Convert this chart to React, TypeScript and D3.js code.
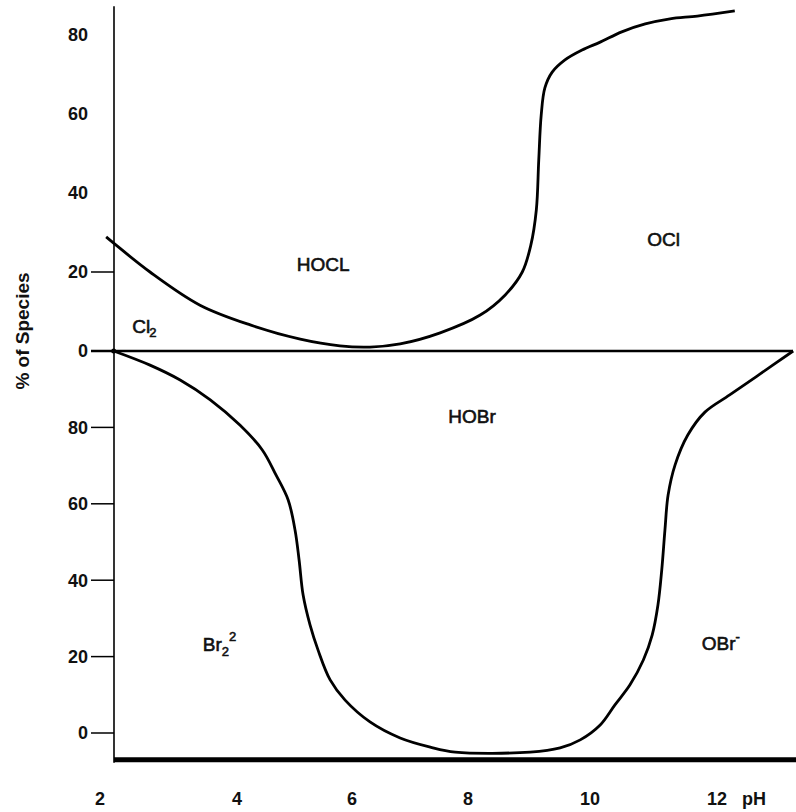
import * as d3 from "d3";

// pH axis labels
const phTicks = [2, 4, 6, 8, 10, 12];
// upper panel (chlorine species) and lower panel (bromine species)
const topTicks = [0, 20, 40, 60, 80];
const topTicksMarked = [0, 20];
const bottomTicks = [0, 20, 40, 60, 80];

// HOCl boundary curve (upper panel)
const hoclPh = [2.09, 2.2, 2.73, 3.46, 4.23, 5.1, 5.79, 6.31, 6.83, 7.52, 8.2, 8.61, 8.89, 9.03, 9.12, 9.16, 9.2, 9.26, 9.38, 9.59, 9.87, 10.16, 10.5, 10.87, 11.26, 11.69, 12.28];
const hoclPct = [28.9, 27.3, 20.0, 11.6, 6.6, 3.0, 1.3, 1.0, 1.8, 4.6, 9.1, 14.2, 20.0, 26.8, 35.7, 48.4, 59.7, 66.6, 70.6, 73.7, 76.2, 78.2, 80.8, 82.8, 84.1, 84.8, 86.1];

// HOBr boundary curve (lower panel)
const hobrPh = [2.2, 2.73, 3.17, 3.61, 4.05, 4.44, 4.68, 4.89, 5.01, 5.08, 5.15, 5.27, 5.41, 5.62, 5.88, 6.31, 6.83, 7.35, 7.78, 9.02, 9.51, 9.84, 10.16, 10.39, 10.63, 10.84, 10.98, 11.07, 11.13, 11.18, 11.23, 11.34, 11.54, 11.81, 12.2, 12.68, 13.2];
const hobrPct = [100, 96.3, 92.4, 87.2, 80.6, 74.1, 67.5, 61.0, 53.1, 45.3, 36.1, 28.3, 21.7, 13.9, 8.6, 2.9, -1.3, -3.7, -5.0, -5.0, -3.9, -1.8, 2.1, 7.3, 12.6, 19.1, 25.7, 33.5, 42.7, 53.1, 62.3, 70.2, 78.0, 84.0, 88.5, 94.0, 100];

const FONT = "'Liberation Sans', Arial, sans-serif";

const App = () => {
    const width = 796, height = 812;

    const x = d3.scaleLinear()
        .domain(phTicks)
        .range([100, 237, 352, 468, 590, 717]);
    const yTop = d3.scaleLinear().domain([0, 80]).range([351, 35]);
    const yBot = d3.scaleLinear().domain([0, 100]).range([733, 351]);

    const axisX = 114;

    const hoclLine = d3.line<number>()
        .x((d) => x(d))
        .y((d, i) => yTop(hoclPct[i]))
        .curve(d3.curveCatmullRom.alpha(0.5));
    const hobrLine = d3.line<number>()
        .x((d) => x(d))
        .y((d, i) => yBot(hobrPct[i]))
        .curve(d3.curveCatmullRom.alpha(0.5));

    const bottomY = yBot(-7);

    return (
        <svg width={width} height={height}
             style={{position: "absolute", left: 0, top: 0, background: "#fff"}}
             fontFamily={FONT}>
            {/* y axis */}
            <line x1={axisX} x2={axisX} y1={yTop(87.3)} y2={bottomY + 3} stroke="#000" strokeWidth={1.6}/>
            {/* zero line of upper panel */}
            <line x1={91} x2={793} y1={yTop(0)} y2={yTop(0)} stroke="#000" strokeWidth={2.4}/>
            {/* thick base line */}
            <line x1={axisX} x2={width} y1={bottomY} y2={bottomY} stroke="#000" strokeWidth={5}/>

            {topTicksMarked.filter(t => t !== 0).map(t => (
                <line key={"tt" + t} x1={91} x2={axisX} y1={yTop(t)} y2={yTop(t)} stroke="#000" strokeWidth={1.5}/>
            ))}
            {topTicks.map(t => (
                <text key={"tl" + t} x={88} y={yTop(t)} dy="0.36em" textAnchor="end"
                      fontSize={18} fontWeight="bold" fill="#111">{t}</text>
            ))}

            {bottomTicks.map(t => (
                <g key={"b" + t}>
                    <line x1={91} x2={axisX} y1={yBot(t)} y2={yBot(t)} stroke="#000" strokeWidth={1.5}/>
                    <text x={88} y={yBot(t)} dy="0.36em" textAnchor="end"
                          fontSize={18} fontWeight="bold" fill="#111">{t}</text>
                </g>
            ))}

            {phTicks.map(t => (
                <text key={"x" + t} x={x(t)} y={805} textAnchor="middle"
                      fontSize={18} fontWeight="bold" fill="#111">{t}</text>
            ))}
            <text x={x(12) + 25} y={805} fontSize={18} fontWeight="bold" fill="#111">pH</text>

            <text transform="translate(29,331) rotate(-90)" textAnchor="middle"
                  fontSize={19} fontWeight="bold" fill="#111">% of Species</text>

            <path d={hoclLine(hoclPh) ?? ""} fill="none" stroke="#000" strokeWidth={2.8} strokeLinejoin="round"/>
            <path d={hobrLine(hobrPh) ?? ""} fill="none" stroke="#000" strokeWidth={2.8} strokeLinejoin="round"/>
            <circle cx={x(hobrPh[0])} cy={yBot(hobrPct[0])} r={2.5} fill="#000"/>

            {/* species labels */}
            <g fontSize={19} fill="#111" stroke="#111" strokeWidth={0.6}>
                <text x={x(5.04)} y={yTop(20.3)}>HOCL</text>
                <text x={x(10.9)} y={yTop(26.6)}>OCl</text>
                <text x={x(2.47)} y={yTop(4.6)}>Cl<tspan fontSize={13} dy={4} dx={-1}>2</tspan></text>
                <text x={x(7.66)} y={yBot(81.2)}>HOBr</text>
                <text x={x(3.5)} y={yBot(21.5)}>Br<tspan fontSize={13} dy={5}>2</tspan><tspan fontSize={13} dy={-15}>2</tspan></text>
                <text x={x(11.76)} y={yBot(21.7)}>OBr<tspan fontSize={13} dy={-9}>-</tspan></text>
            </g>
        </svg>
    );
};

export default App;
